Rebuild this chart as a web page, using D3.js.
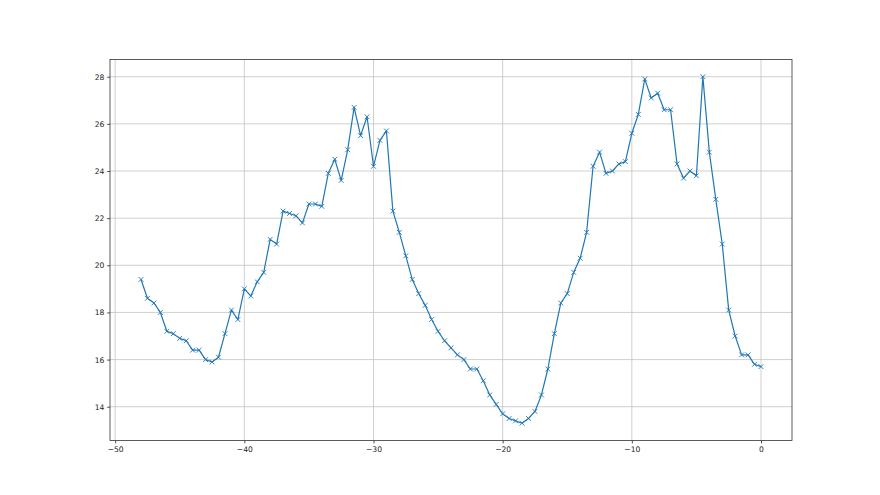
<!DOCTYPE html>
<html>
<head>
<meta charset="utf-8">
<script src="https://cdn.jsdelivr.net/npm/d3@7"></script>
<style>
html,body{margin:0;padding:0;background:#fff;}
svg{display:block;}
text{font-family:"DejaVu Sans",sans-serif;}
</style>
</head>
<body>
<svg id="chart" width="880" height="495"></svg>
<script>
const xStart = -48, xStep = 0.5;
const values = [
19.4,18.6,18.4,18.0,17.2,17.1,16.9,16.8,16.4,16.4,
16.0,15.9,16.1,17.1,18.1,17.7,19.0,18.7,19.3,19.7,
21.1,20.9,22.3,22.2,22.1,21.8,22.6,22.6,22.5,23.9,
24.5,23.6,24.9,26.7,25.5,26.3,24.2,25.3,25.7,22.3,
21.4,20.4,19.4,18.8,18.3,17.7,17.2,16.8,16.5,16.2,
16.0,15.6,15.6,15.1,14.5,14.1,13.7,13.5,13.4,13.3,
13.5,13.8,14.5,15.6,17.1,18.4,18.8,19.7,20.3,21.4,
24.2,24.8,23.9,24.0,24.3,24.4,25.6,26.4,27.9,27.1,
27.3,26.6,26.6,24.3,23.7,24.0,23.8,28.0,24.8,22.8,
20.9,18.1,17.0,16.2,16.2,15.8,15.7
];
const xTicks = [-50,-40,-30,-20,-10,0];
const yTicks = [14,16,18,20,22,24,26,28];

const data = values.map((v,i)=>({x:xStart+i*xStep, y:v}));

const W=880,H=495;
const m={left:110,right:792,top:59.4,bottom:440.55};
const svg=d3.select("#chart");

const xmin=d3.min(data,d=>d.x), xmax=d3.max(data,d=>d.x);
const ymin=d3.min(data,d=>d.y), ymax=d3.max(data,d=>d.y);
const xpad=(xmax-xmin)*0.05, ypad=(ymax-ymin)*0.05;
const x=d3.scaleLinear().domain([xmin-xpad,xmax+xpad]).range([m.left,m.right]);
const y=d3.scaleLinear().domain([ymin-ypad,ymax+ypad]).range([m.bottom,m.top]);

// grid
const g=svg.append("g");
g.selectAll(".vg").data(xTicks).enter().append("line")
 .attr("x1",d=>x(d)).attr("x2",d=>x(d)).attr("y1",m.top).attr("y2",m.bottom)
 .attr("stroke","#c4c4c4").attr("stroke-width",0.8);
g.selectAll(".hg").data(yTicks).enter().append("line")
 .attr("y1",d=>y(d)).attr("y2",d=>y(d)).attr("x1",m.left).attr("x2",m.right)
 .attr("stroke","#c4c4c4").attr("stroke-width",0.8);

// line
const line=d3.line().x(d=>x(d.x)).y(d=>y(d.y));
svg.append("path").datum(data).attr("d",line).attr("fill","none")
 .attr("stroke","#1f77b4").attr("stroke-width",1.2).attr("stroke-linejoin","round");

// markers
const ms=2.4;
svg.append("g").selectAll("path").data(data).enter().append("path")
 .attr("d",d=>{const cx=x(d.x),cy=y(d.y);return `M${cx-ms},${cy-ms}L${cx+ms},${cy+ms}M${cx-ms},${cy+ms}L${cx+ms},${cy-ms}`;})
 .attr("stroke","#1f77b4").attr("stroke-width",0.9);

// axes
const fmt=d=>(d<0?"\u2212"+Math.abs(d):String(d));
const xAxis=d3.axisBottom(x).tickValues(xTicks).tickFormat(fmt).tickSize(2.8).tickPadding(2.8);
const yAxis=d3.axisLeft(y).tickValues(yTicks).tickFormat(fmt).tickSize(2.8).tickPadding(2.8);
const gx=svg.append("g").attr("transform",`translate(0,${m.bottom})`).call(xAxis);
const gy=svg.append("g").attr("transform",`translate(${m.left},0)`).call(yAxis);
[gx,gy].forEach(a=>{
  a.select(".domain").remove();
  a.selectAll(".tick line").attr("stroke","#000").attr("stroke-width",0.7);
  a.selectAll(".tick text").attr("fill","#222").style("font-size","7.6px").style("font-family","'DejaVu Sans',sans-serif");
});
// frame
svg.append("rect").attr("x",m.left).attr("y",m.top).attr("width",m.right-m.left).attr("height",m.bottom-m.top)
 .attr("fill","none").attr("stroke","#333").attr("stroke-width",0.8);
</script>
</body>
</html>
